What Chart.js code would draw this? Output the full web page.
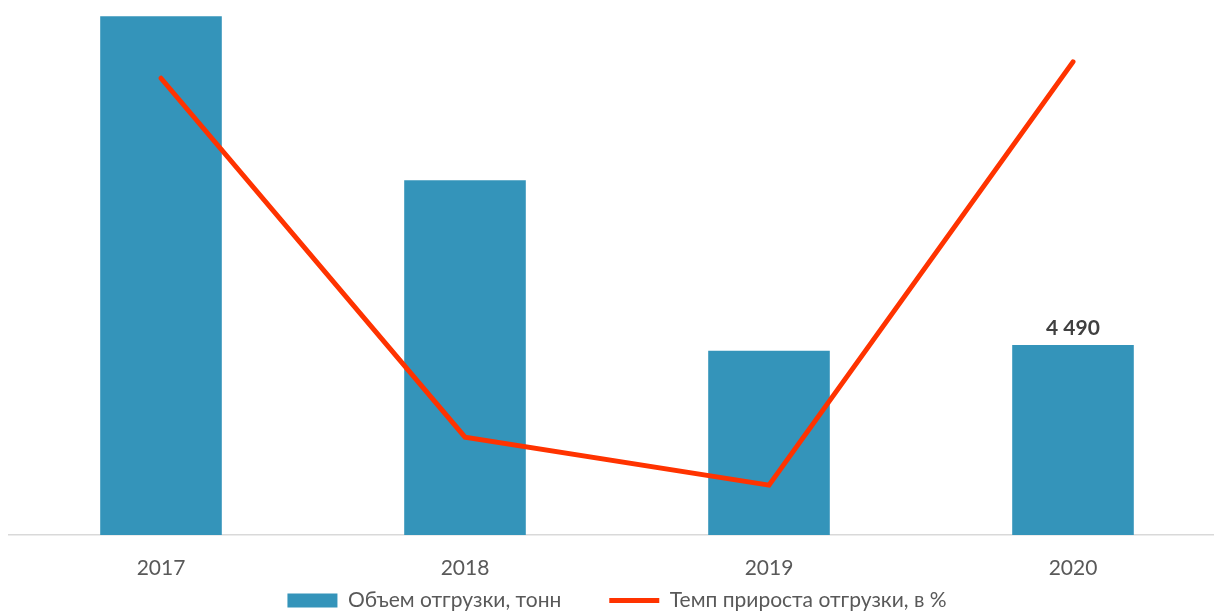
<!DOCTYPE html>
<html lang="ru">
<head>
    <meta charset="UTF-8">
    <title>Отгрузки</title>
    <script src="https://cdn.jsdelivr.net/npm/chart.js"></script>
    <style>
        body { margin: 0; overflow: hidden; background: #fff; }
    </style>
</head>
<body>
    <canvas id="shipChart" width="1226" height="612"></canvas>
    <script>
        // data
        const years = ['2017', '2018', '2019', '2020'];
        const volumeTons = [12250, 8380, 4350, 4490];
        const growthPct = [9.6, -45.1, -52.4, 12.1];
        const labelledBars = ['', '', '', '4 490'];   // only the last bar has a label

        const fontName = "Lato, 'Open Sans', sans-serif";

        // draws the "4 490" label above the bar
        const barLabels = {
            id: 'barLabels',
            afterDatasetsDraw(chart) {
                const meta = chart.getDatasetMeta(0);
                const ctx = chart.ctx;
                ctx.save();
                ctx.font = "bold 21px " + fontName;
                ctx.fillStyle = '#404040';
                ctx.textAlign = 'center';
                ctx.textBaseline = 'middle';
                meta.data.forEach((bar, i) => {
                    if (labelledBars[i]) {
                        ctx.fillText(labelledBars[i], bar.x, bar.y - 17);
                    }
                });
                ctx.restore();
            }
        };

        // legend items are spaced wide (big padding) but the legend keeps a short box
        const legendHeight = {
            id: 'legendHeight',
            beforeLayout(chart) {
                const legend = chart.legend;
                if (legend && !legend._patched) {
                    const fit = legend.fit;
                    legend.fit = function () {
                        fit.call(this);
                        this.height = 31;
                    };
                    legend._patched = true;
                }
            },
            afterLayout(chart) {
                // move the drawn row up so the text sits near the bottom edge
                chart.legend.top = chart.height - 70;
            }
        };

        const ctx = document.getElementById('shipChart').getContext('2d');
        const chart = new Chart(ctx, {
            type: 'bar',
            data: {
                labels: years,
                datasets: [{
                    type: 'bar',
                    label: 'Объем отгрузки, тонн',
                    data: volumeTons,
                    backgroundColor: '#3494BA',
                    borderWidth: 0,
                    pointStyle: 'rect',
                    barPercentage: 0.4,
                    categoryPercentage: 1,
                    yAxisID: 'y',
                    order: 2
                }, {
                    type: 'line',
                    label: 'Темп прироста отгрузки, в %',
                    data: growthPct,
                    borderColor: '#FF3300',
                    backgroundColor: '#FF3300',
                    borderWidth: 5,
                    borderCapStyle: 'round',
                    pointRadius: 0,
                    pointStyle: 'line',
                    tension: 0,
                    yAxisID: 'y2',
                    order: 1
                }]
            },
            options: {
                responsive: false,
                animation: false,
                layout: { padding: { left: 9, right: 1, top: 10, bottom: 0 } },
                plugins: {
                    tooltip: { enabled: false },
                    legend: {
                        position: 'bottom',
                        labels: {
                            usePointStyle: true,
                            pointStyleWidth: 50,
                            boxHeight: 14,
                            padding: 48,
                            color: '#595959',
                            font: { family: fontName, size: 21 },
                            sort: (a, b) => a.datasetIndex - b.datasetIndex
                        }
                    }
                },
                scales: {
                    x: {
                        grid: { display: false, drawTicks: false },
                        border: { display: true, color: '#D9D9D9', width: 1.5 },
                        ticks: {
                            color: '#595959',
                            padding: 21,
                            font: { family: fontName, size: 21 }
                        },
                        afterFit(scale) {
                            scale.height = 46;
                        }
                    },
                    y: {
                        display: false,
                        min: 0,
                        max: 12400
                    },
                    y2: {
                        display: false,
                        min: -60,
                        max: 20
                    }
                }
            },
            plugins: [barLabels, legendHeight]
        });
    </script>
</body>
</html>
